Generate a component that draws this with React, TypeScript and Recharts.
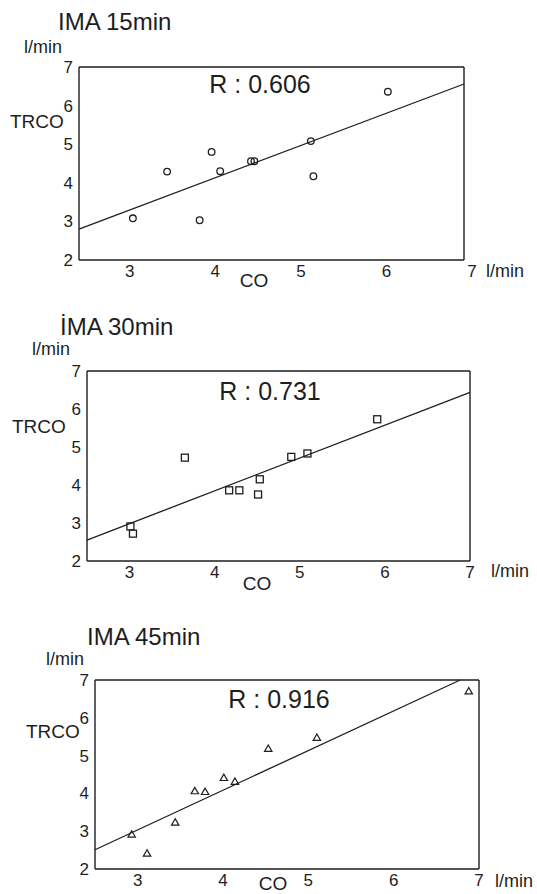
import React from 'react';
import { ScatterChart, Scatter, XAxis, YAxis, ReferenceLine } from 'recharts';

const coTicks = [3, 4, 5, 6, 7];
const trcoTicks = [2, 3, 4, 5, 6, 7];
const coMinor = [2.5, 2.75, 3, 3.25, 3.5, 3.75, 4, 4.25, 4.5, 4.75, 5, 5.25, 5.5, 5.75, 6, 6.25, 6.5, 6.75, 7];
const trcoMinor = [2, 2.25, 2.5, 2.75, 3, 3.25, 3.5, 3.75, 4, 4.25, 4.5, 4.75, 5, 5.25, 5.5, 5.75, 6, 6.25, 6.5, 6.75, 7];
const coHalf = [2.5, 3, 3.5, 4, 4.5, 5, 5.5, 6, 6.5, 7];
const trcoHalf = [2, 2.5, 3, 3.5, 4, 4.5, 5, 5.5, 6, 6.5, 7];

// IMA 15min
const co15 = [3.13, 3.53, 3.91, 4.05, 4.15, 4.51, 4.55, 5.21, 5.24, 6.11];
const trco15 = [3.08, 4.29, 3.03, 4.8, 4.3, 4.56, 4.56, 5.08, 4.17, 6.36];
const fitCo15 = [2.5, 7];
const fitTrco15 = [2.8, 6.56];

// IMA 30min
const co30 = [3.01, 3.04, 3.65, 4.17, 4.29, 4.51, 4.53, 4.9, 5.09, 5.91];
const trco30 = [2.91, 2.72, 4.72, 3.86, 3.86, 3.75, 4.15, 4.74, 4.83, 5.73];
const fitCo30 = [2.5, 7];
const fitTrco30 = [2.55, 6.44];

// IMA 45min
const co45 = [2.93, 3.11, 3.44, 3.67, 3.79, 4.01, 4.14, 4.53, 5.1, 6.88];
const trco45 = [2.92, 2.42, 3.24, 4.07, 4.05, 4.42, 4.32, 5.19, 5.48, 6.71];
const fitCo45 = [2.5, 6.78];
const fitTrco45 = [2.51, 7];

const ink = '#1e1e1e';
const font = '"Liberation Sans", Arial, sans-serif';

type Kind = 'circle' | 'square' | 'triangle';

const marker = (kind: Kind) => (props: any) => {
  const { cx, cy } = props;
  if (cx == null || cy == null) return <g />;
  if (kind === 'circle') return <circle cx={cx} cy={cy} r={3.3} fill="none" stroke={ink} strokeWidth={1.3} />;
  if (kind === 'square') return <rect x={cx - 3.5} y={cy - 3.5} width={7} height={7} fill="none" stroke={ink} strokeWidth={1.3} />;
  return <polygon points={`${cx},${cy - 3.4} ${cx - 3.7},${cy + 3} ${cx + 3.7},${cy + 3}`} fill="none" stroke={ink} strokeWidth={1.2} />;
};

interface PanelProps {
  co: number[];
  trco: number[];
  fitCo: number[];
  fitTrco: number[];
  kind: Kind;
  top: number;
  height: number;
  box: { top: number; right: number; bottom: number; left: number };
  labelDx: number;
}

// axes are 1px thick each (2 bottom, 1 top, 2 left, 1 right), so margins are trimmed by that
const Panel = ({ co, trco, fitCo, fitTrco, kind, top, height, box, labelDx }: PanelProps) => {
  const data = co.map((c, i) => ({ co: c, trco: trco[i] }));
  const seg = [{ x: fitCo[0], y: fitTrco[0] }, { x: fitCo[1], y: fitTrco[1] }];
  const axisStroke = { stroke: ink, strokeWidth: 1.4 };
  const margin = { top: box.top - 1, right: box.right - 1, bottom: box.bottom - 2, left: box.left - 2 };
  return (
    <div style={{ position: 'absolute', left: 0, top }}>
      <ScatterChart width={537} height={height} margin={margin}>
        <XAxis
          xAxisId="co" type="number" dataKey="co" domain={[2.5, 7]} ticks={coTicks} interval={0}
          allowDataOverflow height={1} tickLine={false} tickSize={0} tickMargin={5} axisLine={axisStroke}
          tick={(p: any) => (
            <text x={p.x + labelDx} y={p.y} dy="0.71em" textAnchor="middle" fontSize={17} fill={ink} fontFamily={font}>
              {p.payload.value}
            </text>
          )}
        />
        <XAxis xAxisId="coMinor" type="number" domain={[2.5, 7]} ticks={coMinor} interval={0} allowDataOverflow
          height={1} axisLine={false} tick={false} tickSize={3} tickLine={{ stroke: ink }} />
        <XAxis xAxisId="coTop" orientation="top" type="number" domain={[2.5, 7]} ticks={coHalf} interval={0} allowDataOverflow
          height={1} axisLine={axisStroke} tick={false} tickSize={3} tickLine={{ stroke: ink }} />
        <YAxis
          yAxisId="trco" type="number" dataKey="trco" domain={[2, 7]} ticks={trcoTicks} interval={0}
          allowDataOverflow width={1} tickLine={false} tickSize={0} tickMargin={6} axisLine={axisStroke}
          tick={{ fontSize: 17, fill: ink, fontFamily: font }}
        />
        <YAxis yAxisId="trcoMinor" type="number" domain={[2, 7]} ticks={trcoMinor} interval={0} allowDataOverflow
          width={1} mirror axisLine={false} tick={false} tickSize={3} tickLine={{ stroke: ink }} />
        <YAxis yAxisId="trcoRight" orientation="right" type="number" domain={[2, 7]} ticks={trcoHalf} interval={0} allowDataOverflow
          width={1} mirror axisLine={axisStroke} tick={false} tickSize={3} tickLine={{ stroke: ink }} />
        <ReferenceLine xAxisId="co" yAxisId="trco" segment={seg} stroke={ink} strokeWidth={1.3} ifOverflow="visible" />
        <Scatter xAxisId="co" yAxisId="trco" data={data} shape={marker(kind)} isAnimationActive={false} />
      </ScatterChart>
    </div>
  );
};

const App = () => {
  return (
    <div style={{ position: 'absolute', left: 0, top: 0, width: 537, height: 894, overflow: 'hidden', background: '#fff' }}>
      <Panel co={co15} trco={trco15} fitCo={fitCo15} fitTrco={fitTrco15} kind="circle"
        top={0} height={300} box={{ top: 67, right: 74, bottom: 40, left: 80 }} labelDx={8} />
      <Panel co={co30} trco={trco30} fitCo={fitCo30} fitTrco={fitTrco30} kind="square"
        top={300} height={300} box={{ top: 71, right: 68, bottom: 39, left: 88 }} labelDx={0} />
      <Panel co={co45} trco={trco45} fitCo={fitCo45} fitTrco={fitTrco45} kind="triangle"
        top={600} height={294} box={{ top: 80, right: 59, bottom: 25, left: 96 }} labelDx={0} />
      <svg width={537} height={894} style={{ position: 'absolute', left: 0, top: 0, pointerEvents: 'none' }}
        fontFamily={font} fill={ink}>
        <text x={58} y={30} fontSize={24}>IMA 15min</text>
        <text x={24} y={53} fontSize={18}>l/min</text>
        <text x={10} y={128} fontSize={19}>TRCO</text>
        <text x={260} y={93} fontSize={25} textAnchor="middle">R : 0.606</text>
        <text x={254} y={287} fontSize={19} textAnchor="middle">CO</text>
        <text x={486} y={277} fontSize={18}>l/min</text>

        <text x={60} y={335} fontSize={24}>İMA 30min</text>
        <text x={32} y={355} fontSize={18}>l/min</text>
        <text x={12} y={433} fontSize={19}>TRCO</text>
        <text x={270} y={400} fontSize={25} textAnchor="middle">R : 0.731</text>
        <text x={257} y={590} fontSize={19} textAnchor="middle">CO</text>
        <text x={491} y={577} fontSize={18}>l/min</text>

        <text x={87} y={645} fontSize={24}>IMA 45min</text>
        <text x={46} y={665} fontSize={18}>l/min</text>
        <text x={26} y={738} fontSize={19}>TRCO</text>
        <text x={279} y={708} fontSize={25} textAnchor="middle">R : 0.916</text>
        <text x={273} y={890} fontSize={19} textAnchor="middle">CO</text>
        <text x={495} y={887} fontSize={18}>l/min</text>
      </svg>
    </div>
  );
};

export default App;
